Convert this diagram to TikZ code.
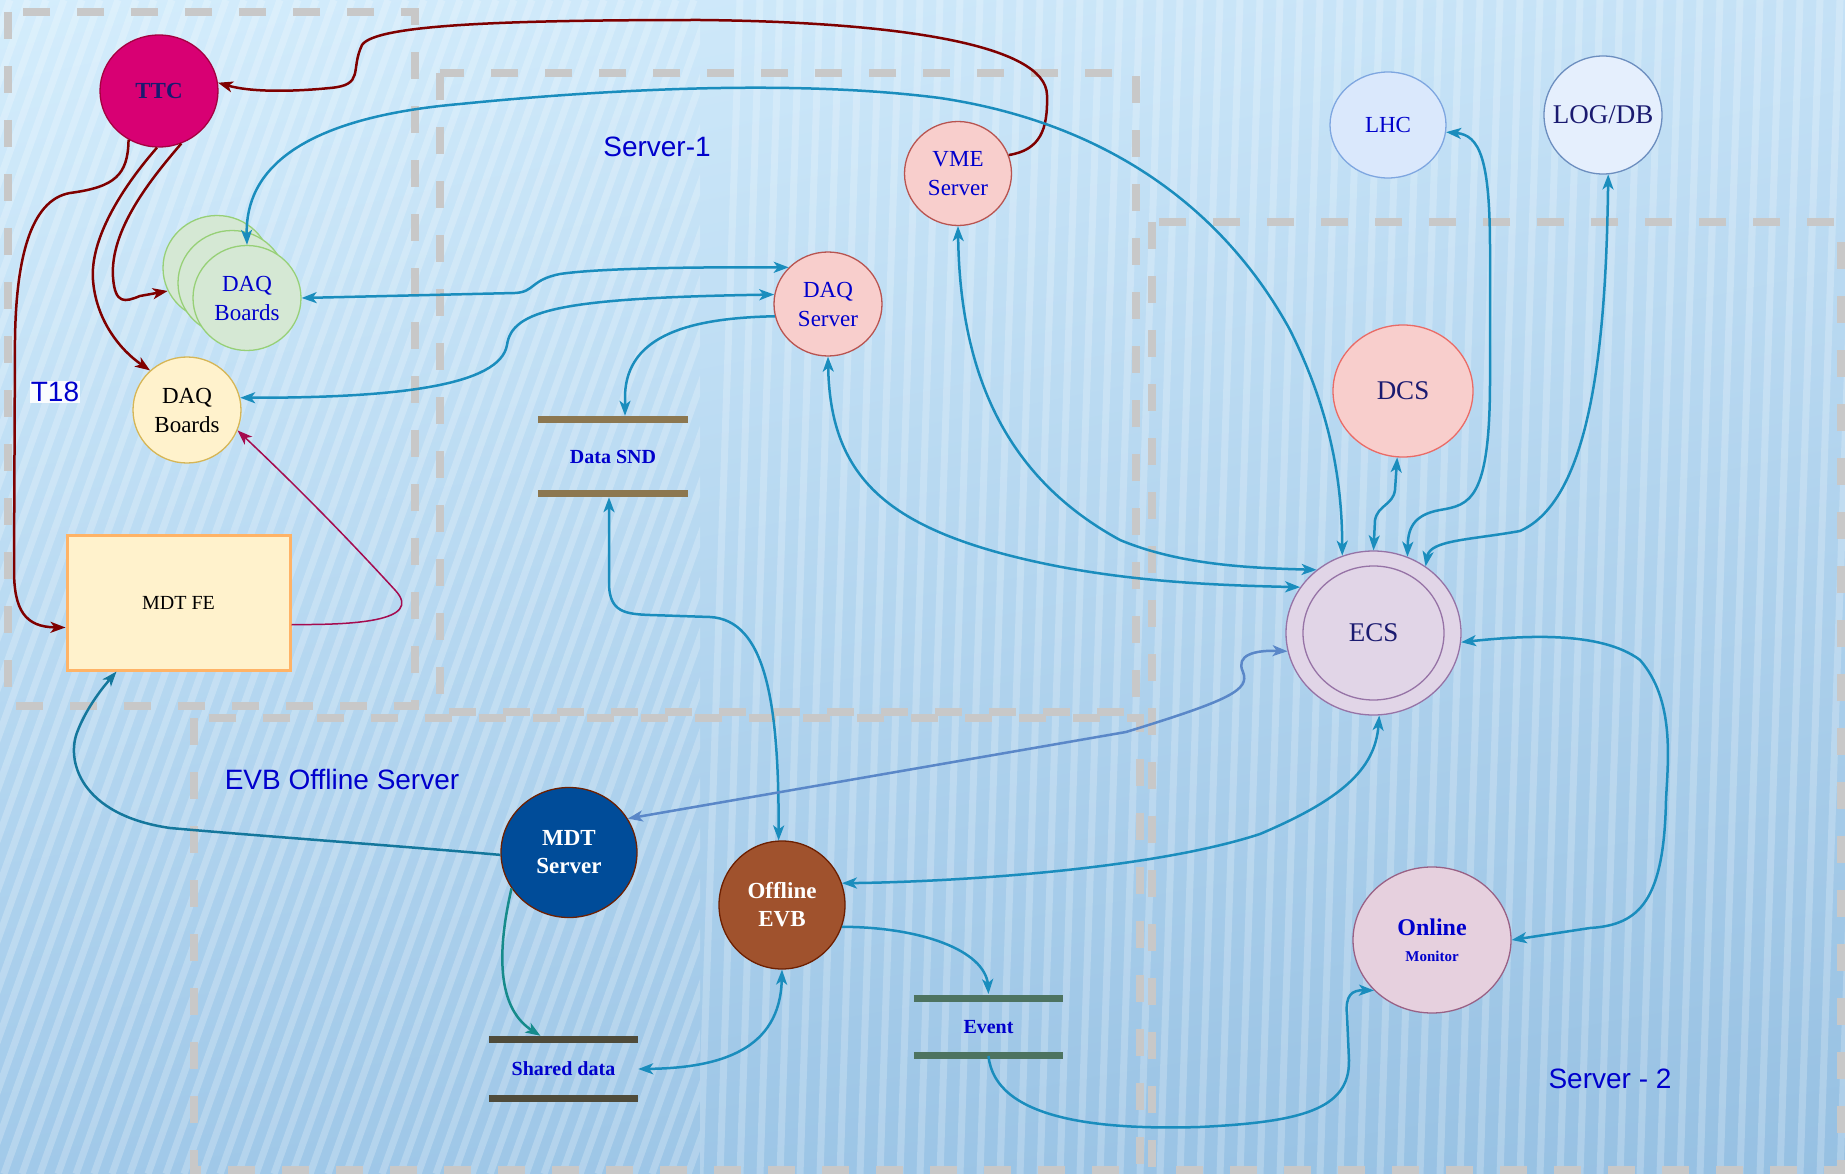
\documentclass[tikz,border=0pt]{standalone}
\usepackage{fontspec}
\setmainfont{Liberation Serif}
\newfontfamily\sansf{Liberation Sans}
\usetikzlibrary{shapes.geometric,arrows.meta,calc,shadings}
\definecolor{bgA}{HTML}{D4EDFC}
\definecolor{bgB}{HTML}{C4E1F6}
\definecolor{bgC}{HTML}{A1C9E9}
\definecolor{bgD}{HTML}{96C0E2}
\definecolor{boxgray}{HTML}{C8C8C8}
\definecolor{cblue}{HTML}{1A8DBD}
\definecolor{cdark}{HTML}{14779C}
\definecolor{cred}{HTML}{7F0000}
\definecolor{ccrim}{HTML}{A50B4F}
\definecolor{csteel}{HTML}{5A87C8}
\definecolor{cteal}{HTML}{168B8B}
\definecolor{tblue}{HTML}{0000CC}
\definecolor{tnavy}{HTML}{1A1A70}
\definecolor{ttcfill}{HTML}{D80073}
\definecolor{ttcdraw}{HTML}{A50040}
\definecolor{gfill}{HTML}{D5E8D4}
\definecolor{gdraw}{HTML}{97D077}
\definecolor{yfill}{HTML}{FFF2CC}
\definecolor{ydraw}{HTML}{D6B656}
\definecolor{odraw}{HTML}{FFB366}
\definecolor{rfill}{HTML}{F8CECC}
\definecolor{rdraw}{HTML}{B85450}
\definecolor{rdraw2}{HTML}{EA6B66}
\definecolor{bfill}{HTML}{DAE8FC}
\definecolor{bdraw}{HTML}{7EA6E0}
\definecolor{bdraw2}{HTML}{6C8EBF}
\definecolor{pfill}{HTML}{E1D5E7}
\definecolor{pdraw}{HTML}{9673A6}
\definecolor{mfill}{HTML}{E6D0DE}
\definecolor{mdraw}{HTML}{996185}
\definecolor{mdtfill}{HTML}{004C99}
\definecolor{brdraw}{HTML}{6D1F00}
\definecolor{evbfill}{HTML}{A0522D}
\definecolor{sndcol}{HTML}{8C7750}
\definecolor{evtcol}{HTML}{4D7360}
\definecolor{shdcol}{HTML}{4F4B3A}
\tikzset{
  gbox/.style={draw=boxgray, line width=8pt, dash pattern=on 27pt off 27pt},
  stripe/.style={draw=white, line width=7pt, opacity=0.22},
  circ/.style={ellipse, inner sep=0pt, align=center, line width=1.3pt, font=\fontsize{23}{29}\selectfont},
  store/.style={rectangle, inner sep=0pt, minimum width=149pt, font=\bfseries\fontsize{20}{24}\selectfont, text=tblue},
  bar/.style={line width=7pt},
  lbl/.style={font=\sansf\fontsize{28}{32}\selectfont, text=tblue, inner sep=1pt},
  lnk/.style={draw=cblue, line width=2.5pt},
  >={Stealth[length=15pt,width=11pt,inset=4pt]}
}
\begin{document}
\begin{tikzpicture}[x=1pt,y=-1pt]
\useasboundingbox (0,0) rectangle (1845,1174);
\shade[upper left=bgA, upper right=bgB, lower left=bgC, lower right=bgD] (0,0) rectangle (1845,1174);
\begin{scope}
\clip (0,0) rectangle (700,1174);
\foreach \i in {-500,-482,...,720} \draw[stripe] (\i,1174) -- (\i+420,0);
\end{scope}
\begin{scope}
\clip (700,0) rectangle (1845,1174);
\foreach \i in {700,720,...,1845} \draw[stripe] (\i,1174) -- (\i+40,0);
\end{scope}

% dashed boxes
\draw[gbox] (8,12) rectangle (415,706);
\draw[gbox] (440,73) rectangle (1136,712);
\draw[gbox] (194,718) rectangle (1140,1170);
\draw[gbox] (1152,222) rectangle (1841,1170);

% labels
\node[lbl] (srv1) at (657,147) {Server-1};
\node[lbl] (evbl) at (342,779) {EVB Offline Server};
\node[lbl] (srv2) at (1610,1079) {Server - 2};
\node[lbl, fill=white, fill opacity=0.9, text opacity=1] (t18) at (55,392) {T18};

% nodes
\node[circ, minimum width=118pt, minimum height=112pt, fill=ttcfill, draw=ttcdraw, text=tnavy, font=\bfseries\fontsize{23}{26}\selectfont] (ttc) at (159,91) {TTC};
\node[circ, minimum width=108pt, minimum height=105pt, fill=gfill, draw=gdraw] (gdaq3) at (217,268) {};
\node[circ, minimum width=108pt, minimum height=105pt, fill=gfill, draw=gdraw] (gdaq2) at (232,283) {};
\node[circ, minimum width=108pt, minimum height=105pt, fill=gfill, draw=gdraw, text=tblue] (gdaq) at (247,298) {DAQ\\Boards};
\node[circ, minimum width=108pt, minimum height=106pt, fill=yfill, draw=ydraw, text=black] (ydaq) at (187,410) {DAQ\\Boards};
\node[rectangle, minimum width=223pt, minimum height=135pt, fill=yfill, draw=odraw, line width=3pt, font=\fontsize{20}{24}\selectfont] (mdtfe) at (178.5,602.5) {MDT FE};
\node[circ, minimum width=107pt, minimum height=104pt, fill=rfill, draw=rdraw, text=tblue] (vme) at (958,173.5) {VME\\Server};
\node[circ, minimum width=108pt, minimum height=104pt, fill=rfill, draw=rdraw, text=tblue] (dsrv) at (828,304) {DAQ\\Server};
\node[circ, minimum width=116pt, minimum height=106pt, fill=bfill, draw=bdraw, text=tblue] (lhc) at (1388,125) {LHC};
\node[circ, minimum width=118pt, minimum height=118pt, inner xsep=-16pt, fill=bfill!70!white, draw=bdraw2, text=tnavy, font=\fontsize{27}{30}\selectfont] (logdb) at (1603,115) {LOG/DB};
\node[circ, minimum width=140pt, minimum height=132pt, fill=rfill, draw=rdraw2, text=tnavy, font=\fontsize{27}{30}\selectfont] (dcs) at (1403,391) {DCS};
\node[circ, minimum width=175pt, minimum height=164pt, fill=pfill, draw=pdraw] (ecs) at (1373.5,633) {};
\node[circ, minimum width=141pt, minimum height=134pt, draw=pdraw, text=tnavy, font=\fontsize{27}{30}\selectfont] (ecsin) at (ecs.center) {ECS};
\node[circ, minimum width=158pt, minimum height=146pt, fill=mfill, draw=mdraw, text=tblue, font=\bfseries\fontsize{15}{26}\selectfont] (onm) at (1432,940) {{\fontsize{24}{26}\selectfont Online}\\{\fontsize{15}{18}\selectfont Monitor}};
\node[circ, minimum width=136pt, minimum height=130pt, fill=mdtfill, draw=brdraw, text=white, font=\bfseries\fontsize{23}{28}\selectfont] (mdts) at (569,852.5) {MDT\\Server};
\node[circ, minimum width=126pt, minimum height=128pt, fill=evbfill, draw=brdraw, text=white, font=\bfseries\fontsize{23}{28}\selectfont] (oevb) at (782,905) {Offline\\EVB};

% stores
\node[store, minimum height=73pt] (snd) at (613,456.5) {Data SND};
\draw[bar, draw=sndcol] (snd.north west) -- (snd.north east);
\draw[bar, draw=sndcol] (snd.south west) -- (snd.south east);
\node[store, minimum height=57.5pt] (evt) at (988.5,1027) {Event};
\draw[bar, draw=evtcol] (evt.north west) -- (evt.north east);
\draw[bar, draw=evtcol] (evt.south west) -- (evt.south east);
\node[store, minimum height=58pt] (shd) at (563.5,1069) {Shared data};
\draw[bar, draw=shdcol] (shd.north west) -- (shd.north east);
\draw[bar, draw=shdcol] (shd.south west) -- (shd.south east);

% red connectors
\draw[draw=cred, line width=2.5pt, ->] (vme.20) .. controls (1040,150) and (1048,130) .. (1047,95)
  .. controls (1046,45) and (900,22) .. (700,20) .. controls (500,20) and (375,25) .. (362,45)
  .. controls (350,70) and (365,85) .. (330,88) .. controls (290,92) and (250,92) .. (ttc.8);
\draw[draw=cred, line width=2.5pt, ->] (ttc.-67) .. controls (150,180) and (110,230) .. (113,277)
  .. controls (115,305) and (125,302) .. (140,296) -- (gdaq3.205);
\draw[draw=cred, line width=2.5pt, ->] (ttc.-92) .. controls (120,190) and (90,240) .. (93,280)
  .. controls (96,320) and (120,350) .. (ydaq.133);
\draw[draw=cred, line width=2.5pt, ->] (ttc.-122) .. controls (128,175) and (115,187) .. (70,193)
  .. controls (30,200) and (16,260) .. (15,340) -- (14,570) .. controls (14,610) and (25,627) .. ($(mdtfe.west)+(0,25)$);
\draw[draw=ccrim, line width=1.5pt, ->] ($(mdtfe.east)+(0,22)$) .. controls (350,625) and (425,622) .. (395,590)
  .. controls (340,530) and (290,480) .. (ydaq.-22);

% blue connectors
\draw[lnk, <->] (gdaq.north) .. controls (245,170) and (300,118) .. (460,104)
  .. controls (620,88) and (800,80) .. (940,98) .. controls (1120,125) and (1230,220) .. (1290,330)
  .. controls (1330,410) and (1342,480) .. (ecs.112);
\draw[lnk, <->] (gdaq.east) -- (515,293) .. controls (535,292) and (530,280) .. (560,274)
  .. controls (600,268) and (700,267) .. (dsrv.137);
\draw[lnk, <->] (ydaq.13) .. controls (400,398) and (500,385) .. (507,345)
  .. controls (512,310) and (560,298) .. (dsrv.170);
\draw[lnk, ->] (dsrv.193) .. controls (690,318) and (627,335) .. (625,395) -- ($(snd.north)+(12,-4)$);
\draw[lnk, <->] ($(snd.south)+(-4,4)$) -- (609,585) .. controls (610,612) and (625,614) .. (650,615)
  -- (710,617) .. controls (765,620) and (779,700) .. (oevb.93);
\draw[lnk, <->] (dsrv.south) .. controls (830,470) and (880,520) .. (1000,553)
  .. controls (1100,580) and (1200,585) .. (ecs.148);
\draw[lnk, <->] (vme.south) .. controls (960,380) and (1010,480) .. (1120,540)
  .. controls (1180,565) and (1250,568) .. (ecs.132);
\draw[lnk, <->] (dcs.-95) -- (1395,490) .. controls (1393,505) and (1378,505) .. (1375,520) -- (ecs.north);
\draw[lnk, <->] (lhc.-7) .. controls (1480,135) and (1490,160) .. (1490,250) -- (1490,380)
  .. controls (1490,500) and (1470,505) .. (1440,510) .. controls (1412,515) and (1408,530) .. (ecs.66);
\draw[lnk, <->] (logdb.-85) .. controls (1606,350) and (1590,500) .. (1520,531)
  .. controls (1470,540) and (1430,540) .. (ecs.52);
\draw[lnk, draw=csteel, <->] (mdts.30) -- (1126,732) .. controls (1230,700) and (1250,690) .. (1243,672)
  .. controls (1235,655) and (1255,650) .. (ecs.192);
\draw[lnk, <->] (oevb.20) .. controls (950,882) and (1150,870) .. (1260,834)
  .. controls (1340,800) and (1375,770) .. (ecs.-86);
\draw[lnk, <->] (ecs.-6) .. controls (1520,636) and (1600,630) .. (1640,660)
  .. controls (1675,700) and (1668,760) .. (1666,800) .. controls (1664,900) and (1640,925) .. (1590,928)
  -- (onm.east);
\draw[lnk, ->] (oevb.-20) .. controls (920,927) and (985,950) .. (988,985) -- ($(evt.north)+(0,-4)$);
\draw[lnk, ->] (evt.south) .. controls (995,1120) and (1100,1130) .. (1200,1127)
  .. controls (1300,1122) and (1350,1110) .. (1349,1060) -- (1347,1015)
  .. controls (1345,995) and (1352,990) .. (onm.221);
\draw[lnk, <->] (oevb.south) .. controls (780,1050) and (720,1068) .. (shd.east);
\draw[lnk, draw=cdark, ->] (mdts.182) .. controls (400,846) and (260,836) .. (170,828)
  .. controls (80,815) and (65,760) .. (78,730) .. controls (88,705) and (105,685) .. ($(mdtfe.south west)+(51,0)$);
\draw[lnk, draw=cteal, ->] (mdts.212) .. controls (495,960) and (500,1010) .. ($(shd.north)+(-23,-4)$);
\end{tikzpicture}
\end{document}
